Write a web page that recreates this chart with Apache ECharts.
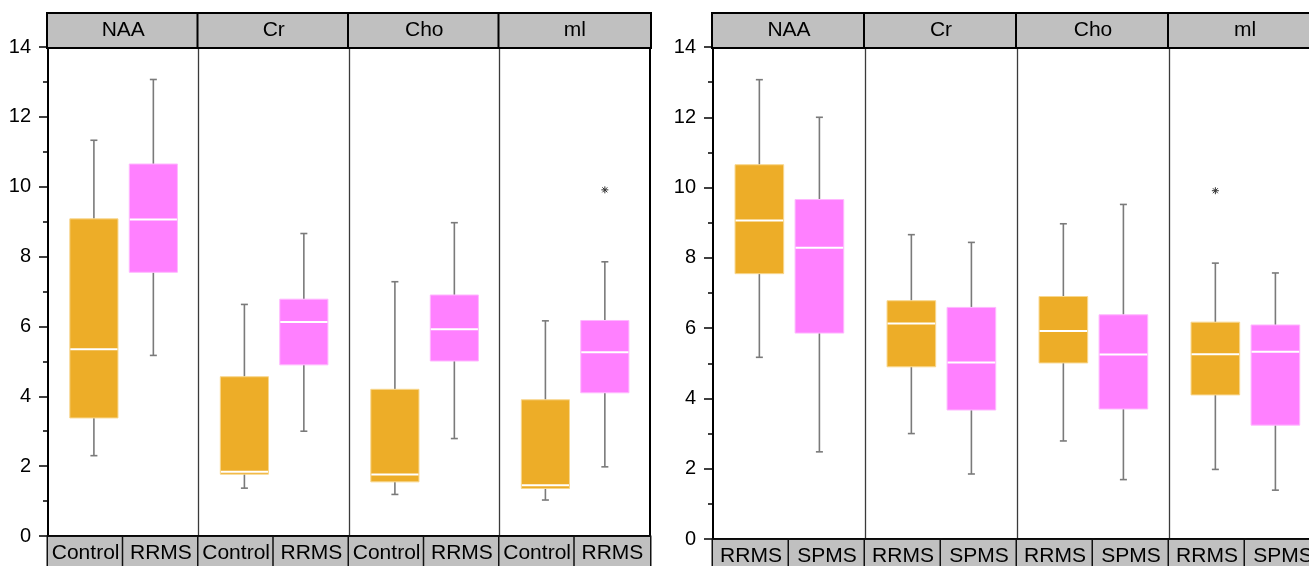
<!DOCTYPE html>
<html>
<head>
<meta charset="utf-8">
<style>
  html, body { margin: 0; padding: 0; background: #fff; }
  #chart { width: 1309px; height: 566px; }
</style>
<script src="https://cdn.jsdelivr.net/npm/echarts@6/dist/echarts.min.js"></script>
</head>
<body>
<div id="chart"></div>
<script>
// ---------- DATA ----------
const metabolites = ['NAA', 'Cr', 'Cho', 'ml'];
const leftGroups = ['Control', 'RRMS'];
const rightGroups = ['RRMS', 'SPMS'];
// Each entry: [min, Q1, median, Q3, max] per metabolite (NAA, Cr, Cho, ml)
const controlStats = [
  [2.30, 3.38, 5.35, 9.08, 11.33],
  [1.37, 1.77, 1.84, 4.56, 6.63],
  [1.19, 1.55, 1.76, 4.20, 7.28],
  [1.03, 1.36, 1.45, 3.90, 6.16]
];
const rrmsStats = [
  [5.17, 7.55, 9.06, 10.65, 13.07],
  [3.00, 4.90, 6.13, 6.78, 8.66],
  [2.79, 5.01, 5.92, 6.90, 8.97],
  [1.98, 4.10, 5.26, 6.17, 7.85]
];
const spmsStats = [
  [2.48, 5.86, 8.29, 9.66, 12.00],
  [1.85, 3.67, 5.02, 6.59, 8.44],
  [1.69, 3.70, 5.25, 6.38, 9.52],
  [1.39, 3.24, 5.33, 6.09, 7.57]
];
const controlOutliers = [[], [], [], []];
const rrmsOutliers = [[], [], [], [9.91]];
const spmsOutliers = [[], [], [], []];
const yMin = 0, yMax = 14, yInterval = 2;

// ---------- STYLE / LAYOUT ----------
const FONT = "'Liberation Sans', Arial, sans-serif";
const boxColors = ['#EDAD28', '#FF80FF'];
const boxEdges = ['#F8D78E', '#FFB8FF'];
const boxPositions = [0.305, 0.70];
const boxRel = 0.32;
const panels = [
  { groups: leftGroups, stats: [controlStats, rrmsStats], outliers: [controlOutliers, rrmsOutliers],
    left: 48, width: 150.5, top: 47, height: 489 },
  { groups: rightGroups, stats: [rrmsStats, spmsStats], outliers: [rrmsOutliers, spmsOutliers],
    left: 713, width: 152, top: 47, height: 492 }
];

const grids = [], xAxes = [], yAxes = [], series = [];

function renderBox(params, api) {
  const x = api.value(0);
  const vMin = api.value(1), q1 = api.value(2), med = api.value(3), q3 = api.value(4), vMax = api.value(5);
  const ci = api.value(6);
  const bw = api.size([boxRel, 0])[0];
  const pMin = api.coord([x, vMin]);
  const pQ1 = api.coord([x, q1]);
  const pMed = api.coord([x, med]);
  const pQ3 = api.coord([x, q3]);
  const pMax = api.coord([x, vMax]);
  const cx = pMax[0];
  const wStyle = { stroke: '#7a7a7a', lineWidth: 1.6 };
  const capHalf = 3.5;
  return {
    type: 'group',
    children: [
      { type: 'line', shape: { x1: cx, y1: pMax[1], x2: cx, y2: pQ3[1] }, style: wStyle },
      { type: 'line', shape: { x1: cx - capHalf, y1: pMax[1], x2: cx + capHalf, y2: pMax[1] }, style: wStyle },
      { type: 'line', shape: { x1: cx, y1: pQ1[1], x2: cx, y2: pMin[1] }, style: wStyle },
      { type: 'line', shape: { x1: cx - capHalf, y1: pMin[1], x2: cx + capHalf, y2: pMin[1] }, style: wStyle },
      { type: 'rect', shape: { x: cx - bw / 2, y: pQ3[1], width: bw, height: pQ1[1] - pQ3[1] },
        style: { fill: boxColors[ci], stroke: boxEdges[ci], lineWidth: 1 } },
      { type: 'line', shape: { x1: cx - bw / 2 + 0.5, y1: pMed[1], x2: cx + bw / 2 - 0.5, y2: pMed[1] },
        style: { stroke: '#ffffff', lineWidth: 2 } }
    ]
  };
}

function renderOutlier(params, api) {
  const p = api.coord([api.value(0), api.value(1)]);
  const r = 3.5, d = 2.5;
  const st = { stroke: '#333', lineWidth: 1 };
  return {
    type: 'group',
    children: [
      { type: 'line', shape: { x1: p[0] - r, y1: p[1], x2: p[0] + r, y2: p[1] }, style: st },
      { type: 'line', shape: { x1: p[0], y1: p[1] - r, x2: p[0], y2: p[1] + r }, style: st },
      { type: 'line', shape: { x1: p[0] - d, y1: p[1] - d, x2: p[0] + d, y2: p[1] + d }, style: st },
      { type: 'line', shape: { x1: p[0] - d, y1: p[1] + d, x2: p[0] + d, y2: p[1] - d }, style: st }
    ]
  };
}

panels.forEach((pan, p) => {
  metabolites.forEach((met, j) => {
    const gi = p * 4 + j;
    grids.push({
      left: pan.left + j * pan.width, top: pan.top, width: pan.width, height: pan.height,
      show: false, containLabel: false, outerBoundsMode: 'none'
    });
    // bottom category axis (group labels)
    xAxes.push({
      type: 'category', gridIndex: gi, position: 'bottom', data: pan.groups, boundaryGap: true,
      axisLine: { show: true, lineStyle: { color: '#000', width: 2 } },
      axisTick: { show: false },
      axisLabel: {
        interval: 0, margin: 1, fontSize: 21, fontFamily: FONT, color: '#000',
        width: pan.width / 2, height: 33, lineHeight: 33, padding: 0,
        backgroundColor: '#C0C0C0', borderColor: '#111', borderWidth: 1.5,
        align: 'center', verticalAlign: 'top', hideOverlap: false
      }
    });
    // top header axis (metabolite)
    xAxes.push({
      type: 'category', gridIndex: gi, position: 'top', data: [met], boundaryGap: true,
      axisLine: { show: true, lineStyle: { color: '#000', width: 2 } },
      axisTick: { show: false },
      axisLabel: {
        interval: 0, margin: 0, fontSize: 21, fontFamily: FONT, color: '#000',
        width: pan.width, height: 33, lineHeight: 33, padding: 0,
        backgroundColor: '#C0C0C0', borderColor: '#000', borderWidth: 2,
        align: 'center', verticalAlign: 'bottom', hideOverlap: false
      }
    });
    // hidden value axis for box positions
    xAxes.push({ type: 'value', gridIndex: gi, min: 0, max: 1, show: false });
    const xIdx = gi * 3 + 2;

    const first = j === 0;
    const yIdx = yAxes.length;
    yAxes.push({
      type: 'value', gridIndex: gi, min: yMin, max: yMax, interval: yInterval, position: 'left',
      axisLine: { show: true, lineStyle: { color: first ? '#000' : '#3a3a3a', width: first ? 2 : 1.3 } },
      axisTick: { show: first, length: 9, lineStyle: { color: '#000', width: 1.5 } },
      minorTick: { show: first, splitNumber: 2, length: 5, lineStyle: { color: '#000', width: 1.5 } },
      axisLabel: { show: first, margin: 17, fontSize: 20, fontFamily: FONT, color: '#000' },
      splitLine: { show: false }, minorSplitLine: { show: false }
    });
    if (j === metabolites.length - 1) {
      yAxes.push({
        type: 'value', gridIndex: gi, min: yMin, max: yMax, position: 'right',
        axisLine: { show: true, lineStyle: { color: '#000', width: 2 } },
        axisTick: { show: false }, axisLabel: { show: false }, splitLine: { show: false }
      });
    }

    const boxData = pan.stats.map((st, k) => [boxPositions[k]].concat(st[j]).concat([k]));
    series.push({
      type: 'custom', xAxisIndex: xIdx, yAxisIndex: yIdx, data: boxData,
      renderItem: renderBox, silent: true, z: 5,
      encode: { x: 0, y: [1, 2, 3, 4, 5] }
    });
    const outData = [];
    pan.outliers.forEach((o, k) => o[j].forEach(v => outData.push([boxPositions[k], v])));
    if (outData.length) {
      series.push({
        type: 'custom', xAxisIndex: xIdx, yAxisIndex: yIdx, data: outData,
        renderItem: renderOutlier, silent: true, z: 6,
        encode: { x: 0, y: 1 }
      });
    }
  });
});

const chart = echarts.init(document.getElementById('chart'), null, { renderer: 'canvas' });
chart.setOption({
  animation: false,
  backgroundColor: '#fff',
  textStyle: { fontFamily: FONT },
  grid: grids,
  xAxis: xAxes,
  yAxis: yAxes,
  series: series
});
</script>
</body>
</html>
